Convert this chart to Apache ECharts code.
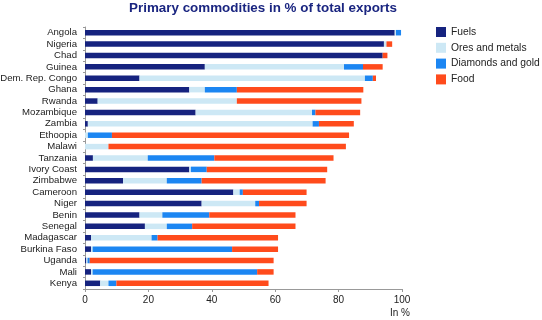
<!DOCTYPE html>
<html>
<head>
<meta charset="utf-8"/>
<title>Primary commodities</title>
<script src="https://cdn.jsdelivr.net/npm/echarts@6/dist/echarts.min.js"></script>
<style>
	body { margin: 0; padding: 0; background: #fff; }
	#chart { width: 542px; height: 320px; }
</style>
</head>
<body>
<div id="chart"></div>
<script>
	// 国家（从上到下）
	var countries = ['Angola','Nigeria','Chad','Guinea','Dem. Rep. Congo','Ghana','Rwanda','Mozambique','Zambia','Ethoopia','Malawi','Tanzania','Ivory Coast','Zimbabwe','Cameroon','Niger','Benin','Senegal','Madagascar','Burkina Faso','Uganda','Mali','Kenya'];
	// 各类占比 (%)
	var fuels    = [97.7, 94.3, 93.9, 37.8, 17.2, 32.9,  4.0, 34.9,  0.9,  0.0,  0.0,  2.5, 32.9, 12.0, 46.8, 36.8, 17.2, 18.9,  1.9,  1.9,  0.4,  1.9,  4.8];
	var ores     = [ 0.4,  0.8,  0.0, 43.9, 71.1,  4.9, 43.9, 36.7, 70.9,  0.9,  7.4, 17.3,  0.5, 13.8,  2.0, 16.9,  7.2,  6.9, 19.1,  0.5,  0.4,  0.5,  2.6];
	var diamonds = [ 1.6,  0.0,  0.0,  6.0,  2.5, 10.1,  0.0,  1.1,  2.0,  7.6,  0.0, 21.0,  5.0, 11.0,  1.0,  1.2, 14.8,  8.0,  1.9, 44.0,  0.7, 51.9,  2.5];
	var food     = [ 0.0,  1.8,  1.5,  6.2,  1.0, 39.9, 39.3, 14.1, 11.0, 74.8, 74.9, 37.6, 38.0, 39.1, 20.1, 15.0, 27.2, 32.6, 38.0, 14.5, 58.0,  5.2, 48.0];
	var seriesNames = ['Fuels','Ores and metals','Diamonds and gold','Food'];
	var seriesColors = ['#16237f','#cde8f5','#1c86f2','#ff4b1c'];
	var xTicks = [0, 20, 40, 60, 80, 100];

	var font = 'Liberation Sans, Arial, sans-serif';
	var allData = [fuels, ores, diamonds, food];
	var series = [];
	for (var i = 0; i < seriesNames.length; i++) {
		series.push({
			name: seriesNames[i],
			type: 'bar',
			stack: 'total',
			barWidth: 5.5,
			itemStyle: { color: seriesColors[i] },
			data: allData[i]
		});
	}

	var myChart = echarts.init(document.getElementById('chart'));
	myChart.setOption({
		animation: false,
		textStyle: { fontFamily: font },
		title: {
			text: 'Primary commodities in % of total exports',
			left: 263,
			textAlign: 'center',
			top: 2,
			padding: 0,
			textStyle: { fontFamily: font, fontSize: 13.4, fontWeight: 'bold', color: '#1a2580' }
		},
		legend: {
			orient: 'vertical',
			left: 436,
			top: 27,
			padding: 0,
			itemWidth: 10,
			itemHeight: 10,
			itemGap: 5.8,
			icon: 'rect',
			textStyle: { fontFamily: font, fontSize: 10.3, color: '#222' },
			data: seriesNames
		},
		grid: { left: 85, right: 140, top: 27, bottom: 31, outerBoundsMode: 'none' },
		xAxis: {
			type: 'value',
			min: xTicks[0],
			max: xTicks[xTicks.length - 1],
			interval: 20,
			splitLine: { show: false },
			axisLine: { show: true, lineStyle: { color: '#999' } },
			axisTick: { show: true, length: 3, lineStyle: { color: '#999' } },
			axisLabel: { fontSize: 10, color: '#222', margin: 6 }
		},
		yAxis: {
			type: 'category',
			inverse: true,
			data: countries,
			axisLine: { show: true, lineStyle: { color: '#999' } },
			axisTick: { show: true, length: 2, lineStyle: { color: '#999' } },
			axisLabel: { interval: 0, fontSize: 9.6, color: '#222', margin: 8 }
		},
		graphic: [{
			type: 'text',
			left: 390,
			top: 308,
			style: { text: 'In %', font: '10px ' + font, fill: '#222' }
		}],
		series: series
	});
</script>
</body>
</html>
